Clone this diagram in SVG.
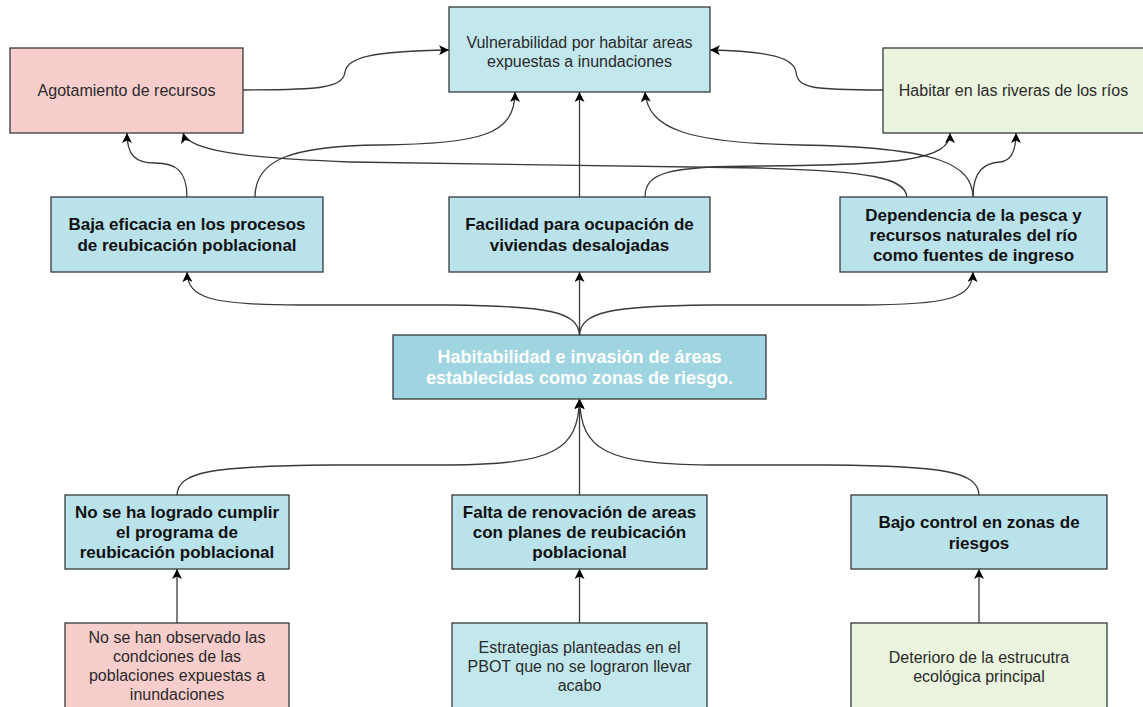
<svg xmlns="http://www.w3.org/2000/svg" width="1143" height="707" viewBox="0 0 1143 707">
<style>
.box{stroke:#36393d;stroke-width:1.3}
.pink{fill:#f8cecc}
.green{fill:#ebf4de}
.lb{fill:#c2e8ee}
.mb{fill:#b9e2eb}
.dk{fill:#9ed5e0}
.t{font-family:"Liberation Sans",Arial,sans-serif;font-size:16px;fill:#2a2a2a;text-anchor:middle}
.b{font-family:"Liberation Sans",Arial,sans-serif;font-size:17px;font-weight:bold;fill:#111;text-anchor:middle}
.w{font-family:"Liberation Sans",Arial,sans-serif;font-size:18px;font-weight:bold;fill:#ffffff;text-anchor:middle}
.c{fill:none;stroke:#3a3a3a;stroke-width:1.3}
</style>
<defs>
<marker id="ah" markerUnits="userSpaceOnUse" markerWidth="12" markerHeight="10" refX="10" refY="5" orient="auto">
<path d="M0,0 L10,5 L0,10 L2.5,5 z" fill="#000"/>
</marker>
</defs>
<rect width="1143" height="707" fill="#ffffff"/>
<g id="connectors">
<path class="c" marker-end="url(#ah)" d="M243,90 C320,90 343,88 345,72 C347,58 370,51 449,50"/>
<path class="c" marker-end="url(#ah)" d="M883,90 C810,90 798,88 796,72 C794,58 770,51 710,50"/>
<path class="c" marker-end="url(#ah)" d="M187,197 C187,170 175,163 155,163 C135,163 127,155 127,133"/>
<path class="c" marker-end="url(#ah)" d="M255,197 C255,160 290,146 380,145 C480,144 515,135 515,92"/>
<path class="c" marker-end="url(#ah)" d="M579.5,197 L579.5,92"/>
<path class="c" marker-end="url(#ah)" d="M645,197 C645,172 670,166 760,166 C900,165 950,160 950,133"/>
<path class="c" marker-end="url(#ah)" d="M907,197 C905,178 870,171 760,168 L350,162 C240,158 188,150 183,133"/>
<path class="c" marker-end="url(#ah)" d="M973,197 C972,165 940,147 800,145 C690,143 648,130 645,92"/>
<path class="c" marker-end="url(#ah)" d="M973,197 C973,170 985,163 1000,162 C1012,161 1016,150 1016,133"/>
<path class="c" marker-end="url(#ah)" d="M579.5,335 C578,312 550,306 450,305 L300,305 C210,305 188,298 187,272"/>
<path class="c" marker-end="url(#ah)" d="M579.5,335 L579.5,272"/>
<path class="c" marker-end="url(#ah)" d="M579.5,335 C581,312 610,306 710,305 L860,305 C950,305 972,298 973,272"/>
<path class="c" marker-end="url(#ah)" d="M177,495 C178,472 210,466 330,465 L450,465 C555,464 578,450 579.5,399"/>
<path class="c" marker-end="url(#ah)" d="M579.5,495 L579.5,399"/>
<path class="c" marker-end="url(#ah)" d="M979,495 C978,472 945,466 830,465 L710,465 C605,464 581,450 579.5,399"/>
<path class="c" marker-end="url(#ah)" d="M177,623 L177,569"/>
<path class="c" marker-end="url(#ah)" d="M579.5,623 L579.5,569"/>
<path class="c" marker-end="url(#ah)" d="M979,623 L979,569"/>
</g>
<g id="agotamiento">
<rect class="box pink" x="10" y="48" width="233" height="85"/>
<text class="t" x="126.5" y="96">Agotamiento de recursos</text>
</g>
<g id="vulnerabilidad">
<rect class="box lb" x="449" y="7" width="261" height="85"/>
<text class="t" x="579.5" y="47.5">Vulnerabilidad por habitar areas</text>
<text class="t" x="579.5" y="66.5">expuestas a inundaciones</text>
</g>
<g id="habitar">
<rect class="box green" x="883" y="48" width="262" height="85"/>
<text class="t" x="1013.5" y="96">Habitar en las riveras de los ríos</text>
</g>
<g id="baja-eficacia">
<rect class="box mb" x="51" y="197" width="272" height="75"/>
<text class="b" x="187" y="229.5">Baja eficacia en los procesos</text>
<text class="b" x="187" y="250.5">de reubicación poblacional</text>
</g>
<g id="facilidad">
<rect class="box mb" x="449" y="197" width="261" height="75"/>
<text class="b" x="579.5" y="229.5">Facilidad para ocupación de</text>
<text class="b" x="579.5" y="250.5">viviendas desalojadas</text>
</g>
<g id="dependencia">
<rect class="box mb" x="840" y="197" width="267" height="75"/>
<text class="b" x="973.5" y="221">Dependencia de la pesca y</text>
<text class="b" x="973.5" y="241">recursos naturales del río</text>
<text class="b" x="973.5" y="261">como fuentes de ingreso</text>
</g>
<g id="habitabilidad">
<rect class="box dk" x="393" y="335" width="373" height="64"/>
<text class="w" x="579.5" y="362.5">Habitabilidad e invasión de áreas</text>
<text class="w" x="579.5" y="383.5">establecidas como zonas de riesgo.</text>
</g>
<g id="no-se-ha-logrado">
<rect class="box mb" x="65" y="495" width="224" height="74"/>
<text class="b" x="177" y="518">No se ha logrado cumplir</text>
<text class="b" x="177" y="538">el programa de</text>
<text class="b" x="177" y="558">reubicación poblacional</text>
</g>
<g id="falta-renovacion">
<rect class="box mb" x="452" y="495" width="255" height="74"/>
<text class="b" x="579.5" y="518">Falta de renovación de areas</text>
<text class="b" x="579.5" y="538">con planes de reubicación</text>
<text class="b" x="579.5" y="558">poblacional</text>
</g>
<g id="bajo-control">
<rect class="box mb" x="851" y="495" width="256" height="74"/>
<text class="b" x="979" y="528">Bajo control en zonas de</text>
<text class="b" x="979" y="549">riesgos</text>
</g>
<g id="no-se-han-observado">
<rect class="box pink" x="65" y="623" width="224" height="88"/>
<text class="t" x="177" y="643">No se han observado las</text>
<text class="t" x="177" y="662">condciones de las</text>
<text class="t" x="177" y="681">poblaciones expuestas a</text>
<text class="t" x="177" y="700">inundaciones</text>
</g>
<g id="estrategias">
<rect class="box lb" x="452" y="623" width="255" height="88"/>
<text class="t" x="579.5" y="653">Estrategias planteadas en el</text>
<text class="t" x="579.5" y="672">PBOT que no se lograron llevar</text>
<text class="t" x="579.5" y="691">acabo</text>
</g>
<g id="deterioro">
<rect class="box green" x="851" y="623" width="256" height="88"/>
<text class="t" x="979" y="663">Deterioro de la estrucutra</text>
<text class="t" x="979" y="682">ecológica principal</text>
</g>
</svg>
